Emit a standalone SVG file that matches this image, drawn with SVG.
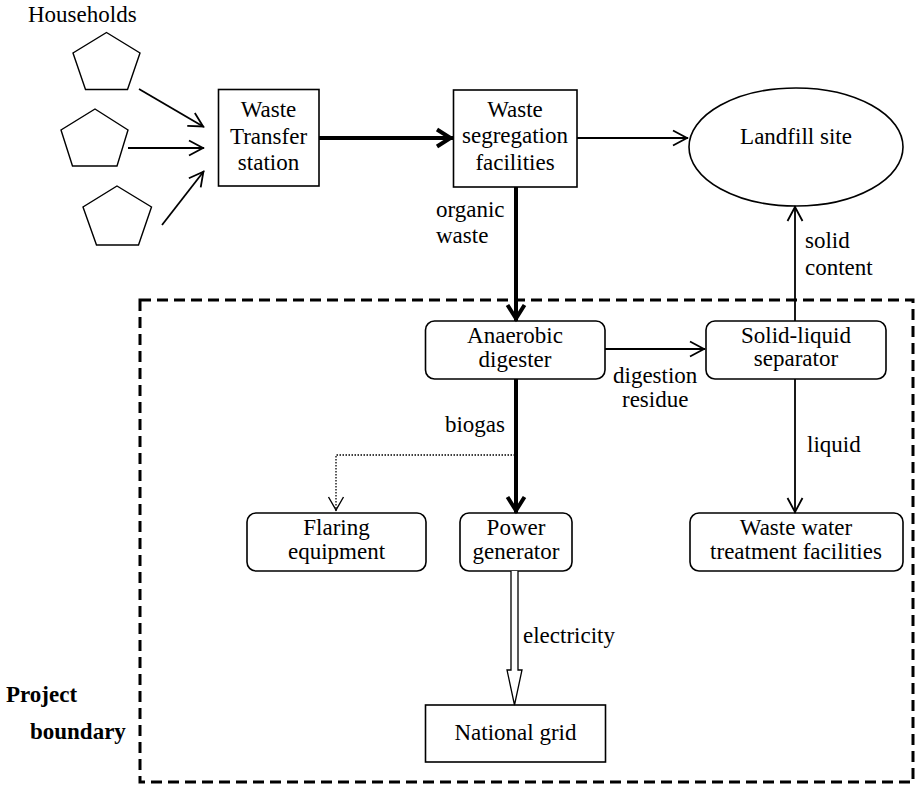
<svg xmlns="http://www.w3.org/2000/svg" width="917" height="785" viewBox="0 0 917 785" font-family="'Liberation Serif', 'DejaVu Serif', serif">
  <style>
    text { font-family: 'Liberation Serif', 'DejaVu Serif', serif; font-size: 23px; fill: #000; }
    .c { text-anchor: middle; }
    .b { font-weight: bold; }
    .box { fill: #fff; stroke: #000; stroke-width: 1.6; }
    .house { fill: #fff; stroke: #000; stroke-width: 1.4; stroke-linejoin: miter; }
    .thin { fill: none; stroke: #000; stroke-width: 1.8; }
    .thick { fill: none; stroke: #000; stroke-width: 4; }
    .dot { fill: none; stroke: #000; stroke-width: 1.3; stroke-dasharray: 1.5 1.5; }
    .boundary { fill: none; stroke: #000; stroke-width: 3; stroke-dasharray: 11 6; }
  </style>
  <defs>
    <marker id="vThin" markerUnits="userSpaceOnUse" markerWidth="22" markerHeight="22" viewBox="-18 -11 22 22" refX="0" refY="0" orient="auto">
      <path d="M-15,-7.5 L-1,0 L-15,7.5" fill="none" stroke="#000" stroke-width="1.8"/>
    </marker>
    <marker id="vThick" markerUnits="userSpaceOnUse" markerWidth="26" markerHeight="26" viewBox="-20 -13 26 26" refX="0" refY="0" orient="auto">
      <path d="M-16,-8.5 L-2.5,0 L-16,8.5" fill="none" stroke="#000" stroke-width="4"/>
    </marker>
    <marker id="vDot" markerUnits="userSpaceOnUse" markerWidth="22" markerHeight="22" viewBox="-18 -11 22 22" refX="0" refY="0" orient="auto">
      <path d="M-14,-7.5 L-1,0 L-14,7.5" fill="none" stroke="#000" stroke-width="1.4"/>
    </marker>
  </defs>

  <!-- project boundary -->
  <rect class="boundary" x="140" y="300" width="773" height="482"/>
  <g id="boundary-label">
    <text class="b" x="6" y="702">Project</text>
    <text class="b" x="30" y="739">boundary</text>
  </g>

  <!-- households -->
  <g id="households">
    <text x="28" y="22">Households</text>
    <polygon class="house" points="106.5,32.5 140,53 127.5,89.5 85.5,89.5 73,53"/>
    <polygon class="house" points="95,109 128,130 117,166 72.5,166 61,130"/>
    <polygon class="house" points="117,186 151.5,207 138.5,245 96.5,245 83,207"/>
  </g>

  <g id="transfer">
    <rect class="box" x="218.5" y="89.5" width="100.5" height="96.5"/>
    <text class="c" x="268.5" y="117">Waste</text>
    <text class="c" x="268.5" y="144">Transfer</text>
    <text class="c" x="268.5" y="170">station</text>
  </g>

  <g id="segregation">
    <rect class="box" x="453.5" y="90" width="123.5" height="97"/>
    <text class="c" x="515" y="117">Waste</text>
    <text class="c" x="515" y="143">segregation</text>
    <text class="c" x="515" y="170">facilities</text>
  </g>

  <g id="landfill">
    <ellipse class="box" cx="796" cy="147" rx="107" ry="59"/>
    <text class="c" x="796" y="144">Landfill site</text>
  </g>

  <g id="digester">
    <rect class="box" x="425.5" y="321" width="179.5" height="58" rx="9"/>
    <text class="c" x="515" y="343">Anaerobic</text>
    <text class="c" x="515" y="367">digester</text>
  </g>

  <g id="separator">
    <rect class="box" x="706" y="321" width="180" height="58" rx="9"/>
    <text class="c" x="796" y="343">Solid-liquid</text>
    <text class="c" x="796" y="366">separator</text>
  </g>

  <g id="flaring">
    <rect class="box" x="247" y="513" width="179" height="58" rx="9"/>
    <text class="c" x="336.5" y="535">Flaring</text>
    <text class="c" x="336.5" y="559">equipment</text>
  </g>

  <g id="generator">
    <rect class="box" x="460" y="513" width="112" height="58" rx="9"/>
    <text class="c" x="516" y="535">Power</text>
    <text class="c" x="516" y="559">generator</text>
  </g>

  <g id="wastewater">
    <rect class="box" x="690" y="513" width="213" height="58" rx="9"/>
    <text class="c" x="796" y="535">Waste water</text>
    <text class="c" x="796" y="559">treatment facilities</text>
  </g>

  <g id="grid">
    <rect class="box" x="425.5" y="705" width="180" height="57"/>
    <text class="c" x="515.5" y="740">National grid</text>
  </g>

  <!-- connectors -->
  <g id="connectors">
    <line class="thin" x1="139" y1="89" x2="204" y2="127" marker-end="url(#vThin)"/>
    <line class="thin" x1="128" y1="148" x2="204" y2="148" marker-end="url(#vThin)"/>
    <line class="thin" x1="162" y1="225" x2="204" y2="171" marker-end="url(#vThin)"/>
    <line class="thick" x1="319" y1="138" x2="453" y2="138" marker-end="url(#vThick)"/>
    <line class="thin" x1="577" y1="138" x2="688" y2="138" marker-end="url(#vThin)"/>
    <line class="thick" x1="516" y1="187" x2="516" y2="321" marker-end="url(#vThick)"/>
    <line class="thin" x1="605" y1="349" x2="705" y2="349" marker-end="url(#vThin)"/>
    <line class="thin" x1="795" y1="321" x2="795" y2="206" marker-end="url(#vThin)"/>
    <line class="thin" x1="795" y1="379" x2="795" y2="513" marker-end="url(#vThin)"/>
    <line class="thick" x1="516" y1="379" x2="516" y2="513" marker-end="url(#vThick)"/>
    <polyline class="dot" points="515,455 336,455 336,511" marker-end="url(#vDot)"/>
    <path d="M511,571 V670 H507 L514.5,705 L522,670 H518 V571" fill="#fff" stroke="#000" stroke-width="1.3"/>
  </g>

  <!-- connector labels -->
  <g id="labels">
    <text x="436" y="217">organic</text>
    <text x="436" y="243">waste</text>
    <text x="613" y="383">digestion</text>
    <text x="622" y="407">residue</text>
    <text x="805" y="248">solid</text>
    <text x="805" y="275">content</text>
    <text x="505" y="432" text-anchor="end">biogas</text>
    <text x="807" y="452">liquid</text>
    <text x="523" y="643">electricity</text>
  </g>
</svg>
